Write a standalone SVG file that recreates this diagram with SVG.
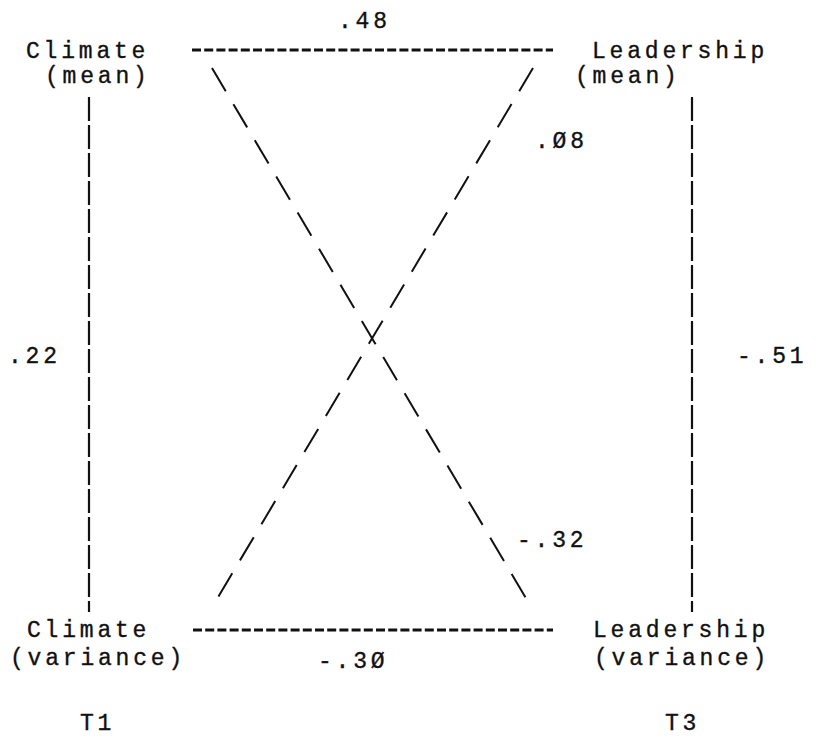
<svg xmlns="http://www.w3.org/2000/svg" width="816" height="740" viewBox="0 0 816 740">
<style>
  text { font-family: "Liberation Mono", "DejaVu Sans Mono", monospace; font-size: 23px; letter-spacing: 3.8px; fill: #111; stroke: #111; stroke-width: 0.35; }
  .h { stroke: #111; stroke-width: 2.8; stroke-dasharray: 9 3.2; fill: none; }
  .v { stroke: #111; stroke-width: 2.2; stroke-dasharray: 24 4; fill: none; }
  .d { stroke: #111; stroke-width: 2; stroke-dasharray: 27 15; fill: none; }
</style>
<rect width="816" height="740" fill="#fff"/>
<g id="connectors">
  <line class="h" x1="192" y1="50" x2="553" y2="50"/>
  <line class="h" x1="193" y1="630" x2="553" y2="630"/>
  <line class="v" x1="89" y1="97" x2="89" y2="612"/>
  <line class="v" x1="692" y1="97" x2="692" y2="612"/>
  <line class="d" x1="212" y1="68" x2="533" y2="610"/>
  <line class="d" x1="533" y1="68" x2="211" y2="609"/>
</g>
<g id="labels">
  <text x="338" y="28">.48</text>
  <text x="535" y="148">.Ø8</text>
  <text x="8" y="363">.22</text>
  <text x="737" y="363">-.51</text>
  <text x="517" y="547">-.32</text>
  <text x="318" y="668">-.3Ø</text>
</g>
<g id="climate-mean">
  <text x="26" y="58">Climate</text>
  <text x="45" y="83">(mean)</text>
</g>
<g id="leadership-mean">
  <text x="592" y="58">Leadership</text>
  <text x="575" y="83">(mean)</text>
</g>
<g id="climate-variance">
  <text x="27" y="637">Climate</text>
  <text x="10" y="665">(variance)</text>
</g>
<g id="leadership-variance">
  <text x="593" y="637">Leadership</text>
  <text x="594" y="665">(variance)</text>
</g>
<g id="time-labels">
  <text x="80" y="730">T1</text>
  <text x="665" y="730">T3</text>
</g>
</svg>
